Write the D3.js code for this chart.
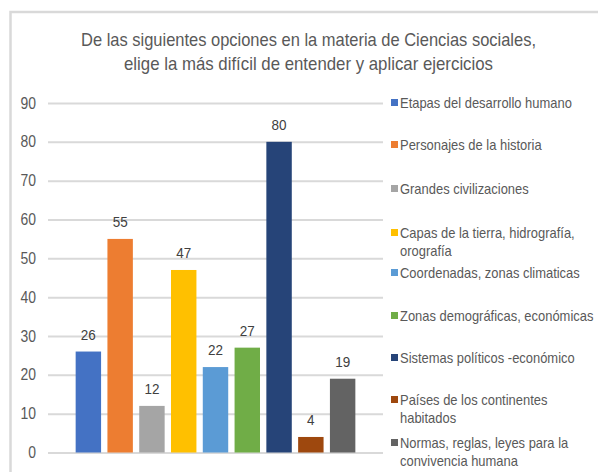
<!DOCTYPE html>
<html>
<head>
<meta charset="utf-8">
<script src="https://cdn.jsdelivr.net/npm/d3@7"></script>
<style>
  body { margin: 0; background: #fff; }
  svg text { font-family: "Liberation Sans", Arial, sans-serif; }
</style>
</head>
<body>
<div id="canvas"></div>
<script>
var categories = [
  'Etapas del desarrollo humano',
  'Personajes de la historia',
  'Grandes civilizaciones',
  'Capas de la tierra, hidrografía, orografía',
  'Coordenadas, zonas climaticas',
  'Zonas demográficas, económicas',
  'Sistemas políticos -económico',
  'Países de los continentes habitados',
  'Normas, reglas, leyes para la convivencia humana'
];
var legendLines = [
  ['Etapas del desarrollo humano'],
  ['Personajes de la historia'],
  ['Grandes civilizaciones'],
  ['Capas de la tierra, hidrografía,', 'orografía'],
  ['Coordenadas, zonas climaticas'],
  ['Zonas demográficas, económicas'],
  ['Sistemas políticos -económico'],
  ['Países de los continentes', 'habitados'],
  ['Normas, reglas, leyes para la', 'convivencia humana']
];
var values = [26, 55, 12, 47, 22, 27, 80, 4, 19];
var colors = ['#4472C4', '#ED7D31', '#A5A5A5', '#FFC000', '#5B9BD5', '#70AD47', '#264478', '#9E480E', '#636363'];
var yTicks = [0, 10, 20, 30, 40, 50, 60, 70, 80, 90];
var titleLines = ['De las siguientes opciones en la materia de Ciencias sociales,',
                  'elige la más difícil de entender y aplicar ejercicios'];

var W = 598, H = 472;
var m = {t: 103, r: 215, b: 19.5, l: 48};
var squeeze = 0.87; // narrow look of the original font

var svg = d3.select('#canvas').append('svg')
    .attr('width', W)
    .attr('height', H);

// frame (cut off at right/bottom)
svg.append('path')
    .attr('d', 'M10.5,' + H + ' V12 H' + W)
    .attr('fill', 'none')
    .attr('stroke', '#d9d9d9')
    .attr('stroke-width', 2.5);

// title
var titleW = [455, 369];
svg.append('g').selectAll('text')
    .data(titleLines)
    .enter()
    .append('text')
    .attr('x', 308.5 )
    .attr('y', function(d, i) { return 46 + i * 24; })
    .attr('text-anchor', 'middle')
    .attr('fill', '#595959')
    .attr('textLength', function(d, i) { return titleW[i]; })
    .attr('lengthAdjust', 'spacingAndGlyphs')
    .style('font-size', '18.5px')
    .text(function(d) { return d; });

var scaleY = d3.scaleLinear()
    .domain([0, 90])
    .range([H - m.b, m.t]);

var scaleX = d3.scaleBand()
    .domain(categories)
    .range([m.l, W - m.r])
    .paddingInner(0.2)
    .paddingOuter(0.87);

var axisY = d3.axisLeft()
    .scale(scaleY)
    .tickValues(yTicks)
    .tickSize(-(W - m.r - m.l))
    .tickPadding(12);

var gy = svg.append('g').attr('class', 'axis axis-y')
    .attr('transform', 'translate(' + m.l + ',0)')
    .call(axisY);
gy.select('.domain').remove();
gy.selectAll('line').attr('stroke', '#d9d9d9').attr('stroke-width', 2);
gy.selectAll('text')
    .attr('fill', '#595959')
    .attr('x', -12 / squeeze)
    .attr('transform', 'scale(' + squeeze + ',1)')
    .style('font-size', '16px');

svg.append('g').selectAll('rect')
    .data(values)
    .enter()
    .append('rect')
    .attr('x', function(d, i) { return scaleX(categories[i]); })
    .attr('y', function(d) { return scaleY(d); })
    .attr('width', scaleX.bandwidth())
    .attr('height', function(d) { return scaleY(0) - scaleY(d); })
    .attr('fill', function(d, i) { return colors[i]; });

svg.append('g').selectAll('text')
    .data(values)
    .enter()
    .append('text')
    .attr('transform', function(d, i) {
      return 'translate(' + (scaleX(categories[i]) + scaleX.bandwidth() / 2) + ',' + (scaleY(d) - 12) + ') scale(' + squeeze + ',1)';
    })
    .attr('text-anchor', 'middle')
    .attr('fill', '#404040')
    .style('font-size', '15.5px')
    .text(function(d) { return d; });

// legend
var legendY = [103, 145, 189, 233, 273, 316, 358, 400, 443];
var leg = svg.append('g').selectAll('g')
    .data(legendLines)
    .enter()
    .append('g')
    .attr('transform', function(d, i) { return 'translate(391,' + legendY[i] + ')'; });
leg.append('rect')
    .attr('x', 0).attr('y', -4)
    .attr('width', 7).attr('height', 7)
    .attr('fill', function(d, i) { return colors[i]; });
leg.append('text')
    .attr('fill', '#595959')
    .attr('transform', 'translate(9,0) scale(0.925,1)')
    .style('font-size', '14px')
    .selectAll('tspan')
    .data(function(d) { return d; })
    .enter()
    .append('tspan')
    .attr('x', 0)
    .attr('y', function(d, i) { return 5 + i * 18; })
    .text(function(d) { return d; });
</script>
</body>
</html>
